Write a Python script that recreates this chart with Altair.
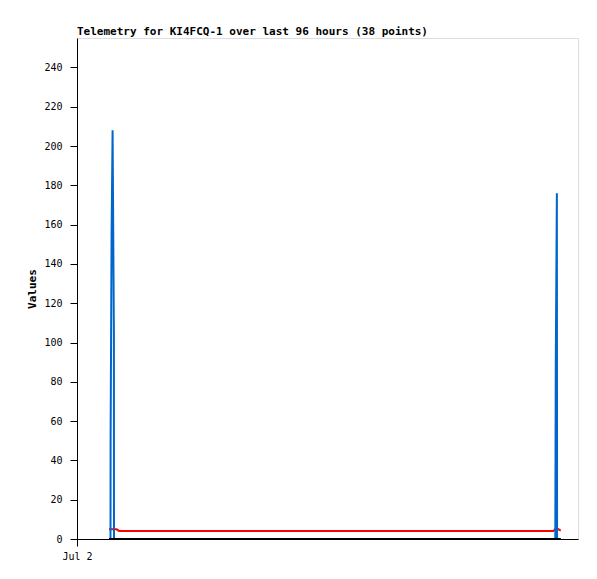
import altair as alt
import pandas as pd

START = pd.Timestamp("2023-07-02T00:00:00Z")

# hours after Jul 2 00:00 and values, per series
blue_hours = [6.13, 6.42, 6.44, 6.63, 6.82, 7.07, 7.09, 50.0, 91.65, 91.74, 91.95, 91.99, 92.7]
blue_vals = [0, 0, 52, 156, 208, 104, 0, 0, 0, 88, 176, 0, 0]

red_hours = [6.13, 7.6, 8.05, 50.0, 91.3, 91.7, 92.1, 92.7]
red_vals = [4.9, 4.9, 4.1, 4.1, 4.1, 5.2, 5.2, 4.3]

black_hours = [6.13, 50.0, 92.7]
black_vals = [0, 0, 0]

series = [("blue", blue_hours, blue_vals),
          ("red", red_hours, red_vals),
          ("black", black_hours, black_vals)]

rows = []
for name, hrs, vals in series:
    for i, (h, v) in enumerate(zip(hrs, vals)):
        rows.append({"series": name, "order": i,
                     "time": (START + pd.Timedelta(hours=h)).strftime("%Y-%m-%dT%H:%M:%SZ"),
                     "value": v})
df = pd.DataFrame(rows)

x_dom = [START.strftime("%Y-%m-%dT%H:%M:%SZ"),
         (START + pd.Timedelta(hours=96)).strftime("%Y-%m-%dT%H:%M:%SZ")]

FONT = "DejaVu Sans Mono"

x = alt.X("time:T", scale=alt.Scale(type="utc", domain=x_dom, nice=False),
          axis=alt.Axis(values=[START.strftime("%Y-%m-%dT%H:%M:%SZ")],
                        labelExpr="utcFormat(datum.value, '%b') + ' ' + utcdate(datum.value)",
                        title=None, grid=False, tickSize=7, labelFlush=False,
                        labelAlign="center", labelBound=False,
                        domainColor="black", tickColor="black", labelColor="black",
                        labelFont=FONT, labelFontSize=10, labelPadding=5))
y = alt.Y("value:Q", scale=alt.Scale(domain=[0, 255], nice=False),
          axis=alt.Axis(values=list(range(0, 241, 20)), title="Values", grid=False,
                        tickSize=7, domainColor="black", tickColor="black",
                        labelColor="black", labelFont=FONT, labelFontSize=10,
                        labelPadding=8, titleFont=FONT, titleFontSize=11,
                        titleFontWeight="bold", titleColor="black", titlePadding=6))

base = alt.Chart(df)
layers = []
for name, color in [("red", "#ff0000"), ("blue", "#0066cc"), ("black", "#000000")]:
    layers.append(base.transform_filter(alt.datum.series == name).mark_line(
        color=color, strokeWidth=2, interpolate="linear").encode(x=x, y=y, order="order:Q"))

chart = alt.layer(*layers).properties(
    width=501, height=501,
    title=alt.TitleParams("Telemetry for KI4FCQ-1 over last 96 hours (38 points)",
                          anchor="start", frame="group", font=FONT, fontSize=11,
                          fontWeight="bold", color="black", offset=1),
    padding={"left": 69, "top": 30, "right": 11, "bottom": 22},
    autosize=alt.AutoSizeParams(type="none"),
).configure_view(stroke="#333333", strokeWidth=1).configure(background="white")

chart.save("out.html", embed_options={"renderer": "svg", "actions": False})
